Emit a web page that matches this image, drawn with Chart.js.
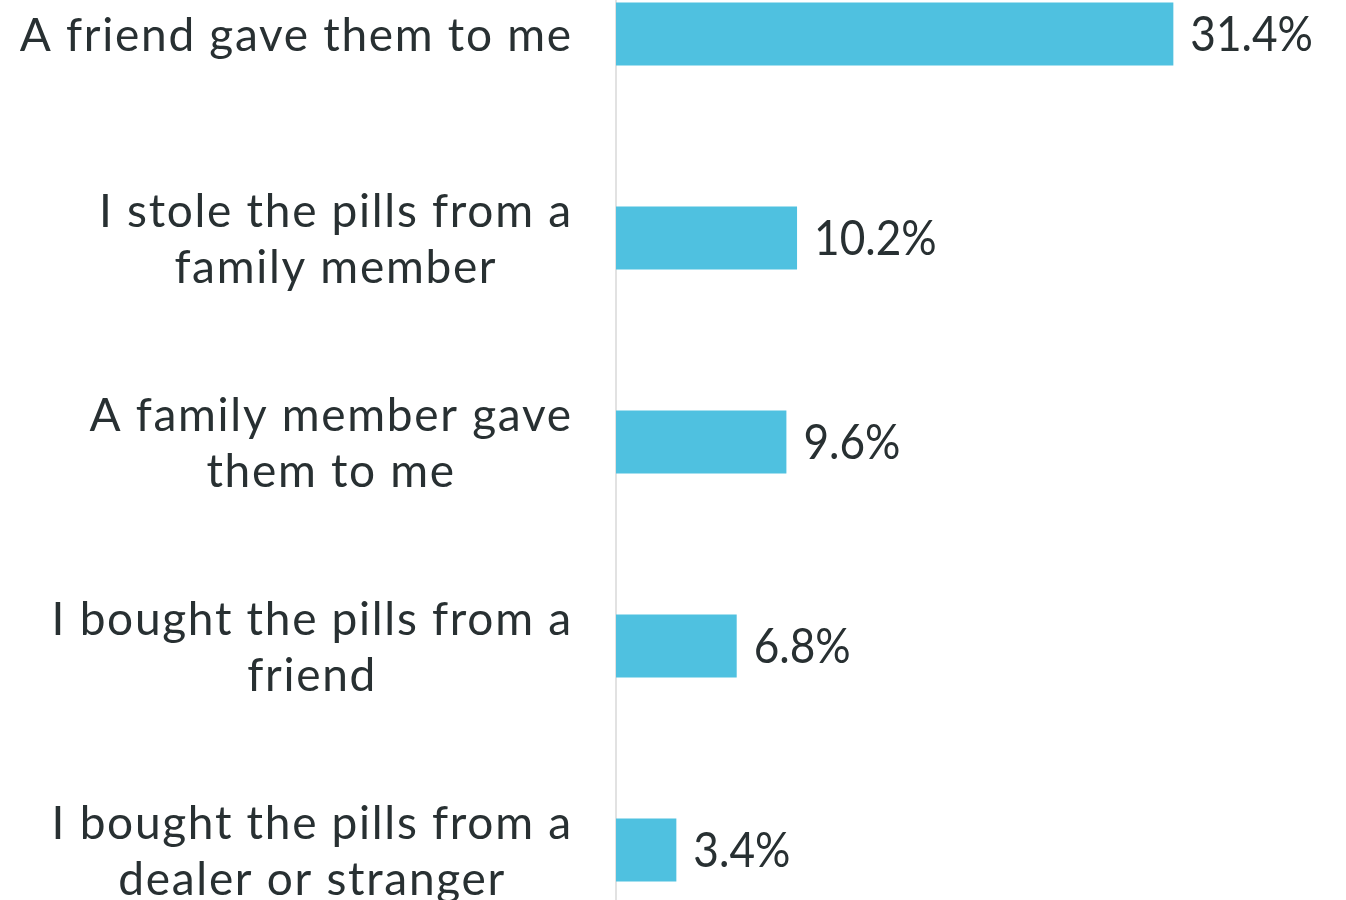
<!DOCTYPE html>
<html>
<head>
<meta charset="utf-8">
<script src="https://cdn.jsdelivr.net/npm/chart.js@4"></script>
<style>
  html, body { margin: 0; padding: 0; background: #ffffff; overflow: hidden; }
  body { width: 1346px; height: 900px; position: relative; }
  #wrap { position: absolute; left: 0; top: -68px; width: 1346px; height: 1020px; }
</style>
</head>
<body>
<div id="wrap"><canvas id="chart"></canvas></div>
<script>
// Sources of the pills, one entry per row (each inner array is one label, split into lines)
const categories = [
  ["A friend gave them to me"],
  ["I stole the pills from a", "family member"],
  ["A family member gave", "them to me"],
  ["I bought the pills from a", "friend"],
  ["I bought the pills from a", "dealer or stranger"]
];
// Share of respondents, in percent
const values = [31.4, 10.2, 9.6, 6.8, 3.4];

const FONT_FAMILY = "Lato, 'DejaVu Sans', sans-serif";
const FONT_SIZE = 46;
const VALUE_FONT_SIZE = 48;
const LINE_HEIGHT = 56;
const TEXT_COLOR = "#283032";
const BAR_COLOR = "#4fc1e0";

// Category labels: each block right-aligned next to the axis, its lines centred on each other
const categoryLabels = {
  id: "categoryLabels",
  afterDraw(chart) {
    const ctx = chart.ctx;
    const yScale = chart.scales.y;
    const right = yScale.right - 45;
    ctx.save();
    ctx.font = FONT_SIZE + "px " + FONT_FAMILY;
    ctx.letterSpacing = "1.7px";
    ctx.fillStyle = TEXT_COLOR;
    ctx.textAlign = "left";
    ctx.textBaseline = "alphabetic";
    const cap = FONT_SIZE * 0.72;
    const width = s => ctx.measureText(s).width - 1.7;
    categories.forEach((lines, i) => {
      const cy = yScale.getPixelForValue(i);
      const maxW = Math.max(...lines.map(width));
      const cx = right - maxW / 2;
      const firstBase = cy - (lines.length - 1) * LINE_HEIGHT / 2 + cap / 2;
      lines.forEach((line, j) => {
        ctx.fillText(line, cx - width(line) / 2, firstBase + j * LINE_HEIGHT);
      });
    });
    ctx.restore();
  }
};

// Value labels to the right of each bar, set in a slightly condensed face
const valueLabels = {
  id: "valueLabels",
  afterDatasetsDraw(chart) {
    const ctx = chart.ctx;
    const meta = chart.getDatasetMeta(0);
    const cap = VALUE_FONT_SIZE * 0.72;
    meta.data.forEach((bar, i) => {
      ctx.save();
      ctx.translate(bar.x + 17, bar.y + cap / 2);
      ctx.scale(0.92, 1);
      ctx.font = VALUE_FONT_SIZE + "px " + FONT_FAMILY;
      ctx.fillStyle = TEXT_COLOR;
      ctx.textAlign = "left";
      ctx.textBaseline = "alphabetic";
      ctx.fillText(values[i].toFixed(1) + "%", 0, 0);
      ctx.restore();
    });
  }
};

new Chart(document.getElementById("chart"), {
  type: "bar",
  data: {
    labels: categories,
    datasets: [{
      data: values,
      backgroundColor: BAR_COLOR,
      borderWidth: 0,
      categoryPercentage: 1,
      barPercentage: 0.31
    }]
  },
  plugins: [categoryLabels, valueLabels],
  options: {
    indexAxis: "y",
    responsive: true,
    maintainAspectRatio: false,
    animation: false,
    layout: { padding: { left: 0, right: 20, top: 0, bottom: 0 } },
    plugins: {
      legend: { display: false },
      tooltip: { enabled: false }
    },
    scales: {
      x: {
        display: false,
        min: 0,
        max: 40
      },
      y: {
        display: true,
        grid: { display: false, drawTicks: false },
        border: { display: true, color: "#e2e2e2", width: 2 },
        ticks: { display: false },
        afterFit(scale) { scale.width = 616; }
      }
    }
  }
});
</script>
</body>
</html>
